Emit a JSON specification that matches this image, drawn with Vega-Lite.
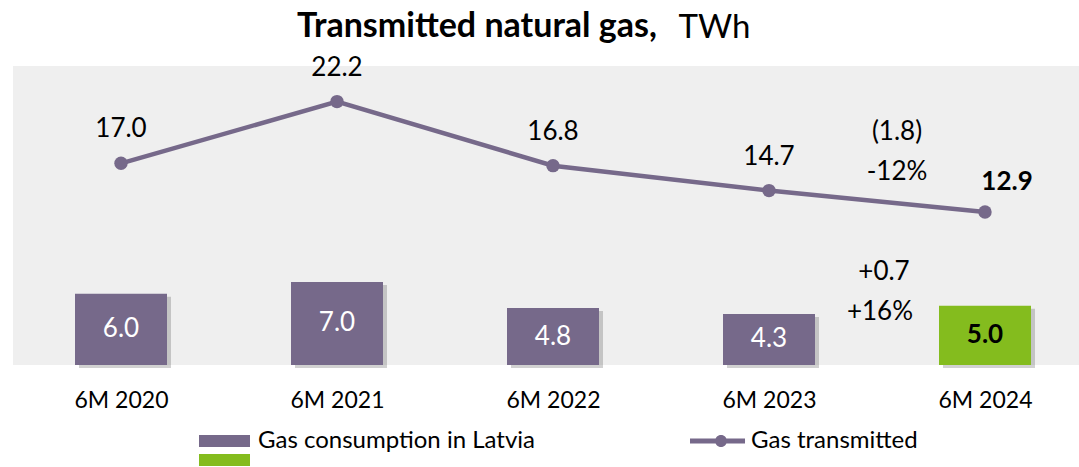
{
  "$schema": "https://vega.github.io/schema/vega-lite/v6.json",
  "width": 1066,
  "height": 299,
  "autosize": {"type": "none"},
  "padding": {"left": 13, "top": 66, "right": 0, "bottom": 102},
  "background": "white",
  "config": {"font": "Lato", "view": {"fill": "#EFEFEF", "stroke": null}, "axis": {"grid": false}},
  "title": {"text": "Transmitted natural gas,", "anchor": "start", "frame": "group", "dx": 284, "fontSize": 34, "fontWeight": "bold", "font": "Lato", "color": "#000", "baseline": "alphabetic", "offset": -60},
  "data": {"values": [
    {"period": "6M 2020", "consumption": 6.0, "transmitted": 17.0, "series": "Gas consumption in Latvia"},
    {"period": "6M 2021", "consumption": 7.0, "transmitted": 22.2, "series": "Gas consumption in Latvia"},
    {"period": "6M 2022", "consumption": 4.8, "transmitted": 16.8, "series": "Gas consumption in Latvia"},
    {"period": "6M 2023", "consumption": 4.3, "transmitted": 14.7, "series": "Gas consumption in Latvia"},
    {"period": "6M 2024", "consumption": 5.0, "transmitted": 12.9, "series": "6M 2024 consumption", "tr_change": "(1.8)", "tr_pct": "-12%", "cons_change": "+0.7", "cons_pct": "+16%"}
  ]},
  "encoding": {
    "x": {"field": "period", "type": "nominal", "sort": null,
      "scale": {"type": "point", "range": [108, 972], "padding": 0},
      "axis": {"title": null, "ticks": false, "domain": false, "labelAngle": 0, "labelFontSize": 23, "labelColor": "#000", "labelPadding": 24, "labelFont": "Lato"}}
  },
  "resolve": {"scale": {"y": "independent"}},
  "layer": [
    {
      "mark": {"type": "bar", "width": 92, "color": "#000", "opacity": 0.18, "xOffset": 4, "yOffset": 3},
      "encoding": {"y": {"field": "consumption", "type": "quantitative", "scale": {"domain": [0, 25.2]}, "axis": null}}
    },
    {
      "transform": [{"filter": "datum.series == 'Gas consumption in Latvia'"}],
      "mark": {"type": "bar", "width": 92, "opacity": 1},
      "encoding": {
        "y": {"field": "consumption", "type": "quantitative", "scale": {"domain": [0, 25.2]},
          "axis": {"title": "TWh", "orient": "left", "labels": false, "ticks": false, "domain": false, "grid": false, "titleAngle": 0, "titleX": 665, "titleY": -29, "titleAlign": "left", "titleBaseline": "alphabetic", "titleFontSize": 33, "titleFontWeight": "normal", "titleFont": "Lato", "titleColor": "#000"}},
        "color": {"field": "series", "type": "nominal",
          "scale": {"range": ["#76698A"]},
          "legend": {"title": null, "orient": "none", "legendX": 180, "legendY": 363, "direction": "vertical", "padding": 0, "symbolType": "M-1,-1H7.5V1H-1Z", "symbolSize": 144, "symbolStrokeWidth": 0, "symbolOpacity": 1, "labelOffset": 41, "labelFontSize": 24, "labelColor": "#000", "labelFont": "Lato", "labelLimit": 400}}
      }
    },
    {
      "transform": [{"filter": "datum.series != 'Gas consumption in Latvia'"}],
      "mark": {"type": "bar", "width": 92, "opacity": 1},
      "encoding": {
        "y": {"field": "consumption", "type": "quantitative", "scale": {"domain": [0, 25.2]}, "axis": null},
        "fill": {"field": "series", "type": "nominal",
          "scale": {"range": ["#84BC1E"]},
          "legend": {"title": null, "orient": "none", "legendX": 180, "legendY": 382, "direction": "vertical", "padding": 0, "symbolType": "M-1,-1H7.5V1H-1Z", "symbolSize": 144, "symbolStrokeWidth": 0, "symbolOpacity": 1, "labelOffset": 41, "labelFontSize": 24, "labelColor": "#000", "labelFont": "Lato", "labelExpr": "''"}}
      }
    },
    {
      "mark": {"type": "line", "strokeWidth": 4.5},
      "encoding": {
        "y": {"field": "transmitted", "type": "quantitative", "scale": {"domain": [0, 25.2]}, "axis": null},
        "stroke": {"datum": "Gas transmitted", "type": "nominal", "scale": {"range": ["#76698A"]},
          "legend": {"title": null, "orient": "none", "legendX": 671, "legendY": 363, "padding": 0, "symbolType": "M-1,-0.42H8.17V0.42H-1Z M3.17,0A1,1 0 1,1 5.17,0A1,1 0 1,1 3.17,0Z", "symbolSize": 144, "symbolStrokeWidth": 0, "symbolFillColor": "#76698A", "labelOffset": 43, "labelFontSize": 24, "labelFont": "Lato", "labelColor": "#000", "labelLimit": 400,
            "encode": {"symbols": {"update": {"fill": {"value": "#76698A"}, "stroke": {"value": "transparent"}, "strokeWidth": {"value": 0}, "opacity": {"value": 1}}}}}}
      }
    },
    {
      "mark": {"type": "circle", "size": 180, "color": "#76698A", "opacity": 1},
      "encoding": {"y": {"field": "transmitted", "type": "quantitative", "scale": {"domain": [0, 25.2]}, "axis": null}}
    },
    {
      "transform": [{"filter": "datum.period != '6M 2024'"}],
      "mark": {"type": "text", "dy": -34, "fontSize": 26, "color": "#000", "baseline": "middle"},
      "encoding": {
        "y": {"field": "transmitted", "type": "quantitative", "scale": {"domain": [0, 25.2]}, "axis": null},
        "text": {"field": "transmitted", "type": "quantitative", "format": ".1f"}
      }
    },
    {
      "transform": [{"filter": "datum.period == '6M 2024'"}],
      "mark": {"type": "text", "dx": 22, "dy": -30, "fontSize": 26, "fontWeight": "bold", "color": "#000", "baseline": "middle"},
      "encoding": {
        "y": {"field": "transmitted", "type": "quantitative", "scale": {"domain": [0, 25.2]}, "axis": null},
        "text": {"field": "transmitted", "type": "quantitative", "format": ".1f"}
      }
    },
    {
      "transform": [{"filter": "datum.series == 'Gas consumption in Latvia'"}],
      "mark": {"type": "text", "fontSize": 26, "color": "#FFFFFF", "baseline": "middle"},
      "encoding": {
        "y": {"field": "consumption", "type": "quantitative", "scale": {"domain": [0, 50.4]}, "axis": null},
        "text": {"field": "consumption", "type": "quantitative", "format": ".1f"}
      }
    },
    {
      "transform": [{"filter": "datum.series != 'Gas consumption in Latvia'"}],
      "mark": {"type": "text", "fontSize": 26, "fontWeight": "bold", "color": "#000", "baseline": "middle"},
      "encoding": {
        "y": {"field": "consumption", "type": "quantitative", "scale": {"domain": [0, 50.4]}, "axis": null},
        "text": {"field": "consumption", "type": "quantitative", "format": ".1f"}
      }
    },
    {
      "transform": [{"filter": "datum.period == '6M 2024'"}],
      "mark": {"type": "text", "dx": -88, "dy": -80, "fontSize": 26, "color": "#000", "baseline": "middle"},
      "encoding": {
        "y": {"field": "transmitted", "type": "quantitative", "scale": {"domain": [0, 25.2]}, "axis": null},
        "text": {"field": "tr_change", "type": "nominal"}
      }
    },
    {
      "transform": [{"filter": "datum.period == '6M 2024'"}],
      "mark": {"type": "text", "dx": -88, "dy": -40, "fontSize": 26, "color": "#000", "baseline": "middle"},
      "encoding": {
        "y": {"field": "transmitted", "type": "quantitative", "scale": {"domain": [0, 25.2]}, "axis": null},
        "text": {"field": "tr_pct", "type": "nominal"}
      }
    },
    {
      "transform": [{"filter": "datum.period == '6M 2024'"}],
      "mark": {"type": "text", "dx": -101, "dy": -34, "fontSize": 26, "color": "#000", "baseline": "middle"},
      "encoding": {
        "y": {"field": "consumption", "type": "quantitative", "scale": {"domain": [0, 25.2]}, "axis": null},
        "text": {"field": "cons_change", "type": "nominal"}
      }
    },
    {
      "transform": [{"filter": "datum.period == '6M 2024'"}],
      "mark": {"type": "text", "dx": -105, "dy": 6, "fontSize": 26, "color": "#000", "baseline": "middle"},
      "encoding": {
        "y": {"field": "consumption", "type": "quantitative", "scale": {"domain": [0, 25.2]}, "axis": null},
        "text": {"field": "cons_pct", "type": "nominal"}
      }
    }
  ]
}
